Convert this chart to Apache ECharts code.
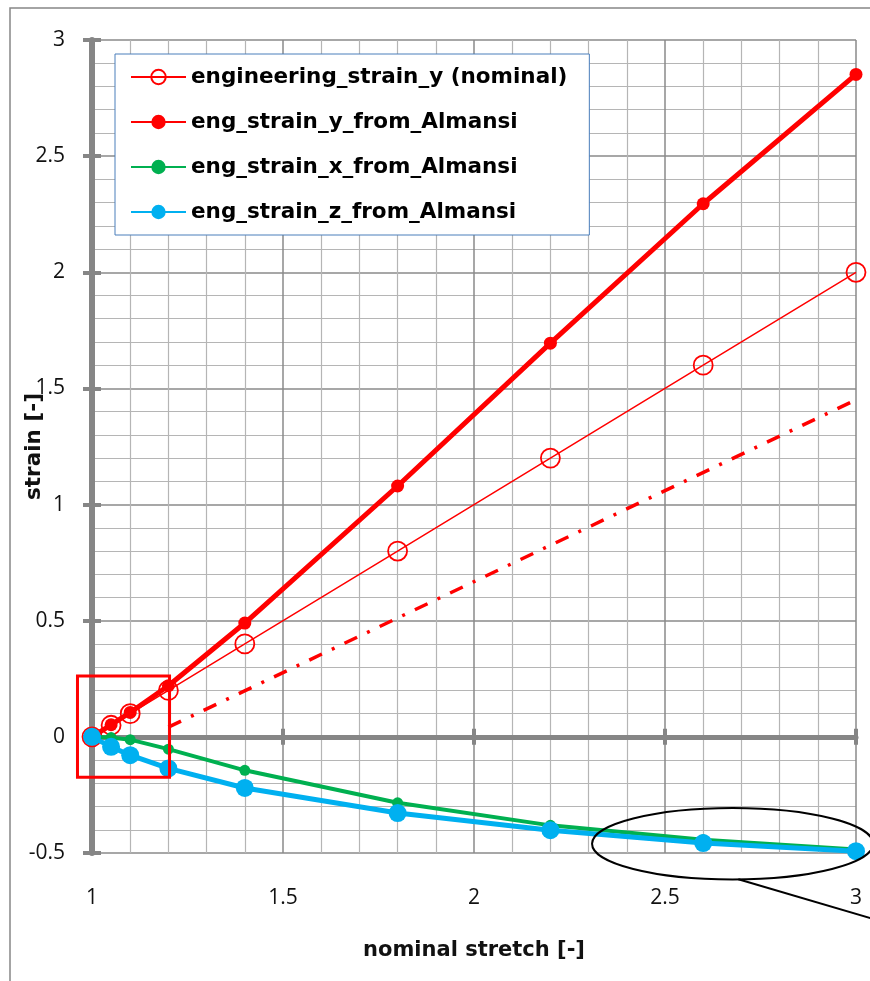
<!DOCTYPE html>
<html><head><meta charset="utf-8">
<script src="https://cdn.jsdelivr.net/npm/echarts@6/dist/echarts.min.js"></script>
<style>html,body{margin:0;padding:0;background:#fff}#c{width:870px;height:981px}</style>
</head><body><div id="c"></div>
<script>
// ---- data ----
const stretch   = [1, 1.05, 1.1, 1.2, 1.4, 1.8, 2.2, 2.6, 3];
const engStrainY = [0, 0.05, 0.1, 0.2, 0.4, 0.8, 1.2, 1.6, 2.0];
const almansiY  = [0, 0.052, 0.105, 0.22, 0.49, 1.08, 1.695, 2.295, 2.852];
const almansiX  = [0, -0.003, -0.012, -0.053, -0.144, -0.284, -0.381, -0.443, -0.485];
const almansiZ  = [0, -0.043, -0.079, -0.136, -0.22, -0.328, -0.402, -0.457, -0.492];
const refLineX  = [1.2, 3];
const refLineY  = [0.042, 1.451];
const seriesNames = ['engineering_strain_y (nominal)', 'eng_strain_y_from_Almansi', 'eng_strain_x_from_Almansi', 'eng_strain_z_from_Almansi'];
const xRange = [1, 3], yRange = [-0.5, 3], majorStep = 0.5;
// annotation shapes in data coordinates
const boxCorners   = [[0.962, 0.262], [1.203, -0.174]];
const ellipseCenter = [2.677, -0.46];
const ellipseRadii  = [0.368, 0.154];
const leaderLine    = [[2.692, -0.613], [3.12, -0.82]];

const zip = (xs, ys) => xs.map((x, i) => [x, ys[i]]);
const FONT = 'Open Sans';
const BOLD = 'DejaVu Sans';
const GRAY = '#868686';

const chart = echarts.init(document.getElementById('c'), null, {renderer: 'canvas'});

const baseX = {type: 'value', min: xRange[0], max: xRange[1], interval: majorStep, position: 'bottom'};
const baseY = {type: 'value', min: yRange[0], max: yRange[1], interval: majorStep, position: 'left'};

const option = {
  animation: false,
  backgroundColor: '#fff',
  grid: {left: 92, right: 14, top: 40, bottom: 128, containLabel: false, outerBoundsMode: 'none'},
  legend: {
    data: seriesNames,
    orient: 'vertical',
    left: 115, top: 54,
    padding: [11, 22, 11, 15],
    itemGap: 21,
    itemWidth: 55, itemHeight: 18,
    backgroundColor: '#fff',
    borderColor: '#4a7ebb', borderWidth: 1,
    textStyle: {fontFamily: BOLD, fontWeight: 'bold', fontSize: 21.5, color: '#000', lineHeight: 24}
  },
  xAxis: [
    Object.assign({}, baseX, {
      axisLine: {show: false, onZero: false},
      axisTick: {show: false},
      axisLabel: {margin: 35, fontFamily: FONT, fontSize: 21, color: '#111'},
      splitLine: {show: true, lineStyle: {color: '#8a8a8a', width: 1.5}},
      minorTick: {show: false, splitNumber: 5},
      minorSplitLine: {show: true, lineStyle: {color: '#b5b5b5', width: 1.2}},
      name: 'nominal stretch [-]', nameLocation: 'middle', nameGap: 87, nameMoveOverlap: false,
      nameTextStyle: {fontFamily: BOLD, fontWeight: 'bold', fontSize: 21, color: '#111'}
    }),
    Object.assign({}, baseX, {
      axisLine: {show: true, onZero: true, onZeroAxisIndex: 0, lineStyle: {color: GRAY, width: 5}},
      axisTick: {show: true, length: 8, lineStyle: {color: GRAY, width: 4}},
      axisLabel: {show: false}, splitLine: {show: false}
    }),
    Object.assign({}, baseX, {
      axisLine: {show: false, onZero: true, onZeroAxisIndex: 0},
      axisTick: {show: true, inside: true, length: 8, lineStyle: {color: GRAY, width: 4}},
      axisLabel: {show: false}, splitLine: {show: false}
    })
  ],
  yAxis: [
    Object.assign({}, baseY, {
      axisLine: {show: true, onZero: false, lineStyle: {color: GRAY, width: 6}},
      axisTick: {show: true, length: 9, lineStyle: {color: GRAY, width: 4}},
      axisLabel: {margin: 27, fontFamily: FONT, fontSize: 21, color: '#111'},
      splitLine: {show: true, lineStyle: {color: '#8a8a8a', width: 1.5}},
      minorTick: {show: false, splitNumber: 5},
      minorSplitLine: {show: true, lineStyle: {color: '#b5b5b5', width: 1.2}},
      name: 'strain [-]', nameLocation: 'middle', nameGap: 47, nameMoveOverlap: false,
      nameTextStyle: {fontFamily: BOLD, fontWeight: 'bold', fontSize: 21.5, color: '#111'}
    }),
    Object.assign({}, baseY, {
      axisLine: {show: false, onZero: false},
      axisTick: {show: true, inside: true, length: 9, lineStyle: {color: GRAY, width: 4}},
      axisLabel: {show: false}, splitLine: {show: false}
    })
  ],
  series: [
    {
      name: seriesNames[0], type: 'line', data: zip(stretch, engStrainY),
      symbol: 'circle', symbolSize: 19,
      lineStyle: {color: '#ff0000', width: 1.5},
      itemStyle: {color: 'rgba(255,255,255,0)', borderColor: '#ff0000', borderWidth: 1.8},
      z: 3
    },
    {
      name: seriesNames[1], type: 'line', data: zip(stretch, almansiY),
      symbol: 'circle', symbolSize: 13,
      lineStyle: {color: '#ff0000', width: 5},
      itemStyle: {color: '#ff0000'}, z: 4
    },
    {
      name: seriesNames[2], type: 'line', data: zip(stretch, almansiX),
      symbol: 'circle', symbolSize: 11,
      lineStyle: {color: '#00b050', width: 4},
      itemStyle: {color: '#00b050'}, z: 5
    },
    {
      name: seriesNames[3], type: 'line', data: zip(stretch, almansiZ),
      symbol: 'circle', symbolSize: 18,
      lineStyle: {color: '#00b0f0', width: 5},
      itemStyle: {color: '#00b0f0'}, z: 6
    },
    {
      name: 'reference', type: 'line', data: zip(refLineX, refLineY),
      symbol: 'none',
      lineStyle: {color: '#ff0000', width: 3.5, type: [14, 11, 3, 11]},
      z: 3
    }
  ]
};
chart.setOption(option);

const p = (pt) => chart.convertToPixel({xAxisIndex: 0, yAxisIndex: 0}, pt);
const b0 = p(boxCorners[0]), b1 = p(boxCorners[1]);
const ec = p(ellipseCenter);
const er = p([ellipseCenter[0] + ellipseRadii[0], ellipseCenter[1] + ellipseRadii[1]]);
const l0 = p(leaderLine[0]), l1 = p(leaderLine[1]);

chart.setOption({
  graphic: [
    {type: 'rect', silent: true, shape: {x: 10, y: 8, width: 1000, height: 1100},
     style: {fill: 'none', stroke: GRAY, lineWidth: 1.5}, z: 0},
    {type: 'rect', silent: true, shape: {x: b0[0], y: b0[1], width: b1[0] - b0[0], height: b1[1] - b0[1]},
     style: {fill: 'none', stroke: '#ff0000', lineWidth: 3}, z: 100},
    {type: 'ellipse', silent: true, shape: {cx: ec[0], cy: ec[1], rx: er[0] - ec[0], ry: ec[1] - er[1]},
     style: {fill: 'none', stroke: '#000', lineWidth: 2}, z: 100},
    {type: 'line', silent: true, shape: {x1: l0[0], y1: l0[1], x2: l1[0], y2: l1[1]},
     style: {stroke: '#000', lineWidth: 2}, z: 100}
  ]
});
</script>
</body></html>
